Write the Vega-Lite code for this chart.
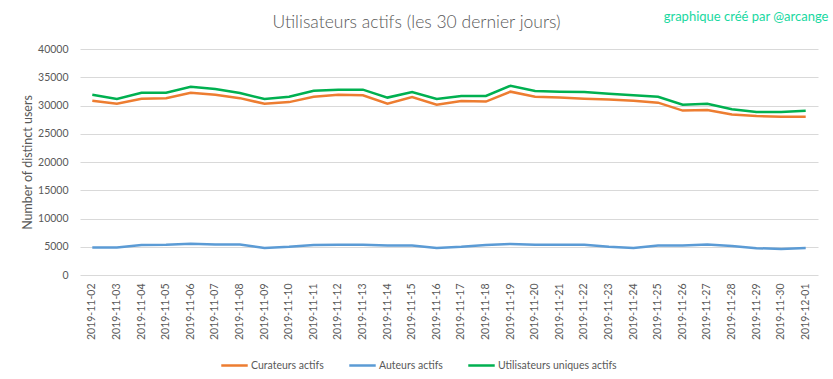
{
  "$schema": "https://vega.github.io/schema/vega-lite/v6.json",
  "width": 738,
  "height": 226,
  "autosize": {"type": "none"},
  "padding": {"left": 80, "top": 49, "right": 15, "bottom": 104},
  "background": "white",
  "config": {
    "font": "Lato",
    "view": {"stroke": null},
    "axis": {"labelFont": "Lato", "titleFont": "Lato", "labelColor": "#595959", "titleColor": "#595959"}
  },
  "data": {
    "values": [
      {"date": "2019-11-02", "series": "Curateurs actifs", "value": 30850},
      {"date": "2019-11-03", "series": "Curateurs actifs", "value": 30300},
      {"date": "2019-11-04", "series": "Curateurs actifs", "value": 31200},
      {"date": "2019-11-05", "series": "Curateurs actifs", "value": 31300},
      {"date": "2019-11-06", "series": "Curateurs actifs", "value": 32250},
      {"date": "2019-11-07", "series": "Curateurs actifs", "value": 31900},
      {"date": "2019-11-08", "series": "Curateurs actifs", "value": 31300},
      {"date": "2019-11-09", "series": "Curateurs actifs", "value": 30300},
      {"date": "2019-11-10", "series": "Curateurs actifs", "value": 30600},
      {"date": "2019-11-11", "series": "Curateurs actifs", "value": 31550},
      {"date": "2019-11-12", "series": "Curateurs actifs", "value": 31900},
      {"date": "2019-11-13", "series": "Curateurs actifs", "value": 31800},
      {"date": "2019-11-14", "series": "Curateurs actifs", "value": 30300},
      {"date": "2019-11-15", "series": "Curateurs actifs", "value": 31500},
      {"date": "2019-11-16", "series": "Curateurs actifs", "value": 30150},
      {"date": "2019-11-17", "series": "Curateurs actifs", "value": 30800},
      {"date": "2019-11-18", "series": "Curateurs actifs", "value": 30700},
      {"date": "2019-11-19", "series": "Curateurs actifs", "value": 32450},
      {"date": "2019-11-20", "series": "Curateurs actifs", "value": 31550},
      {"date": "2019-11-21", "series": "Curateurs actifs", "value": 31400},
      {"date": "2019-11-22", "series": "Curateurs actifs", "value": 31200},
      {"date": "2019-11-23", "series": "Curateurs actifs", "value": 31050},
      {"date": "2019-11-24", "series": "Curateurs actifs", "value": 30850},
      {"date": "2019-11-25", "series": "Curateurs actifs", "value": 30500},
      {"date": "2019-11-26", "series": "Curateurs actifs", "value": 29100},
      {"date": "2019-11-27", "series": "Curateurs actifs", "value": 29200},
      {"date": "2019-11-28", "series": "Curateurs actifs", "value": 28400},
      {"date": "2019-11-29", "series": "Curateurs actifs", "value": 28150},
      {"date": "2019-11-30", "series": "Curateurs actifs", "value": 28000},
      {"date": "2019-12-01", "series": "Curateurs actifs", "value": 28000},
      {"date": "2019-11-02", "series": "Auteurs actifs", "value": 4850},
      {"date": "2019-11-03", "series": "Auteurs actifs", "value": 4850},
      {"date": "2019-11-04", "series": "Auteurs actifs", "value": 5300},
      {"date": "2019-11-05", "series": "Auteurs actifs", "value": 5350},
      {"date": "2019-11-06", "series": "Auteurs actifs", "value": 5550},
      {"date": "2019-11-07", "series": "Auteurs actifs", "value": 5400},
      {"date": "2019-11-08", "series": "Auteurs actifs", "value": 5400},
      {"date": "2019-11-09", "series": "Auteurs actifs", "value": 4800},
      {"date": "2019-11-10", "series": "Auteurs actifs", "value": 5000},
      {"date": "2019-11-11", "series": "Auteurs actifs", "value": 5300},
      {"date": "2019-11-12", "series": "Auteurs actifs", "value": 5350},
      {"date": "2019-11-13", "series": "Auteurs actifs", "value": 5350},
      {"date": "2019-11-14", "series": "Auteurs actifs", "value": 5200},
      {"date": "2019-11-15", "series": "Auteurs actifs", "value": 5200},
      {"date": "2019-11-16", "series": "Auteurs actifs", "value": 4800},
      {"date": "2019-11-17", "series": "Auteurs actifs", "value": 5000},
      {"date": "2019-11-18", "series": "Auteurs actifs", "value": 5300},
      {"date": "2019-11-19", "series": "Auteurs actifs", "value": 5500},
      {"date": "2019-11-20", "series": "Auteurs actifs", "value": 5350},
      {"date": "2019-11-21", "series": "Auteurs actifs", "value": 5350},
      {"date": "2019-11-22", "series": "Auteurs actifs", "value": 5350},
      {"date": "2019-11-23", "series": "Auteurs actifs", "value": 5000},
      {"date": "2019-11-24", "series": "Auteurs actifs", "value": 4800},
      {"date": "2019-11-25", "series": "Auteurs actifs", "value": 5200},
      {"date": "2019-11-26", "series": "Auteurs actifs", "value": 5200},
      {"date": "2019-11-27", "series": "Auteurs actifs", "value": 5400},
      {"date": "2019-11-28", "series": "Auteurs actifs", "value": 5150},
      {"date": "2019-11-29", "series": "Auteurs actifs", "value": 4750},
      {"date": "2019-11-30", "series": "Auteurs actifs", "value": 4600},
      {"date": "2019-12-01", "series": "Auteurs actifs", "value": 4800},
      {"date": "2019-11-02", "series": "Utilisateurs uniques actifs", "value": 31900},
      {"date": "2019-11-03", "series": "Utilisateurs uniques actifs", "value": 31150},
      {"date": "2019-11-04", "series": "Utilisateurs uniques actifs", "value": 32250},
      {"date": "2019-11-05", "series": "Utilisateurs uniques actifs", "value": 32250},
      {"date": "2019-11-06", "series": "Utilisateurs uniques actifs", "value": 33300},
      {"date": "2019-11-07", "series": "Utilisateurs uniques actifs", "value": 32900},
      {"date": "2019-11-08", "series": "Utilisateurs uniques actifs", "value": 32200},
      {"date": "2019-11-09", "series": "Utilisateurs uniques actifs", "value": 31150},
      {"date": "2019-11-10", "series": "Utilisateurs uniques actifs", "value": 31550},
      {"date": "2019-11-11", "series": "Utilisateurs uniques actifs", "value": 32600},
      {"date": "2019-11-12", "series": "Utilisateurs uniques actifs", "value": 32800},
      {"date": "2019-11-13", "series": "Utilisateurs uniques actifs", "value": 32800},
      {"date": "2019-11-14", "series": "Utilisateurs uniques actifs", "value": 31400},
      {"date": "2019-11-15", "series": "Utilisateurs uniques actifs", "value": 32400},
      {"date": "2019-11-16", "series": "Utilisateurs uniques actifs", "value": 31150},
      {"date": "2019-11-17", "series": "Utilisateurs uniques actifs", "value": 31700},
      {"date": "2019-11-18", "series": "Utilisateurs uniques actifs", "value": 31700},
      {"date": "2019-11-19", "series": "Utilisateurs uniques actifs", "value": 33500},
      {"date": "2019-11-20", "series": "Utilisateurs uniques actifs", "value": 32550},
      {"date": "2019-11-21", "series": "Utilisateurs uniques actifs", "value": 32450},
      {"date": "2019-11-22", "series": "Utilisateurs uniques actifs", "value": 32400},
      {"date": "2019-11-23", "series": "Utilisateurs uniques actifs", "value": 32100},
      {"date": "2019-11-24", "series": "Utilisateurs uniques actifs", "value": 31800},
      {"date": "2019-11-25", "series": "Utilisateurs uniques actifs", "value": 31550},
      {"date": "2019-11-26", "series": "Utilisateurs uniques actifs", "value": 30150},
      {"date": "2019-11-27", "series": "Utilisateurs uniques actifs", "value": 30300},
      {"date": "2019-11-28", "series": "Utilisateurs uniques actifs", "value": 29350},
      {"date": "2019-11-29", "series": "Utilisateurs uniques actifs", "value": 28850},
      {"date": "2019-11-30", "series": "Utilisateurs uniques actifs", "value": 28850},
      {"date": "2019-12-01", "series": "Utilisateurs uniques actifs", "value": 29050}
    ]
  },
  "layer": [
    {
      "mark": {"type": "line", "strokeWidth": 2.5},
      "encoding": {
        "x": {
          "field": "date", "type": "ordinal", "sort": null,
          "axis": {
            "orient": "bottom", "title": null, "labelAngle": -90, "labelFontSize": 10.5,
            "labelPadding": 8, "ticks": false, "tickSize": 0, "domain": false, "grid": false
          }
        },
        "y": {
          "field": "value", "type": "quantitative",
          "scale": {"domain": [0, 40000], "nice": false},
          "axis": {
            "orient": "left", "values": [0, 5000, 10000, 15000, 20000, 25000, 30000, 35000, 40000],
            "format": "d", "labelFontSize": 10.5, "labelPadding": 12, "ticks": false, "tickSize": 0,
            "domain": false, "grid": true, "gridColor": "#d9d9d9", "gridWidth": 1,
            "title": "Number of distinct users", "titleFontSize": 12.5, "titleFontWeight": "normal",
            "titlePadding": 3
          }
        },
        "color": {
          "field": "series", "type": "nominal",
          "scale": {
            "domain": ["Curateurs actifs", "Auteurs actifs", "Utilisateurs uniques actifs"],
            "range": ["#ED7D31", "#5B9BD5", "#00B050"]
          },
          "legend": {
            "orient": "none", "legendX": 140, "legendY": 302, "direction": "horizontal",
            "title": null, "symbolType": "stroke", "symbolStrokeWidth": 2.5, "symbolSize": 700,
            "labelFont": "Lato", "labelFontSize": 10.5, "labelColor": "#595959",
            "labelOffset": 2, "columnPadding": 20
          }
        }
      }
    },
    {
      "mark": {"type": "tick", "opacity": 0},
      "encoding": {
        "x": {
          "field": "date", "type": "ordinal", "sort": null,
          "axis": {
            "orient": "top", "labels": false, "ticks": false, "domain": false, "grid": false,
            "title": "Utilisateurs actifs (les 30 dernier jours)", "titleFont": "Lato",
            "titleFontSize": 17.5, "titleFontWeight": 300, "titleColor": "#595959",
            "titleX": 336, "titleY": -27, "titleAlign": "center", "titleBaseline": "middle", "titleAnchor": null
          }
        },
        "y": {
          "field": "value", "type": "quantitative",
          "axis": {
            "orient": "right", "labels": false, "ticks": false, "domain": false, "grid": false,
            "title": "graphique créé par @arcange", "titleFont": "Lato", "titleFontSize": 13,
            "titleFontWeight": "normal", "titleColor": "#19D89F", "titleAngle": 0,
            "titleX": 10, "titleY": -33, "titleAlign": "right", "titleBaseline": "middle"
          }
        }
      }
    }
  ],
  "resolve": {"axis": {"x": "independent", "y": "independent"}}
}
